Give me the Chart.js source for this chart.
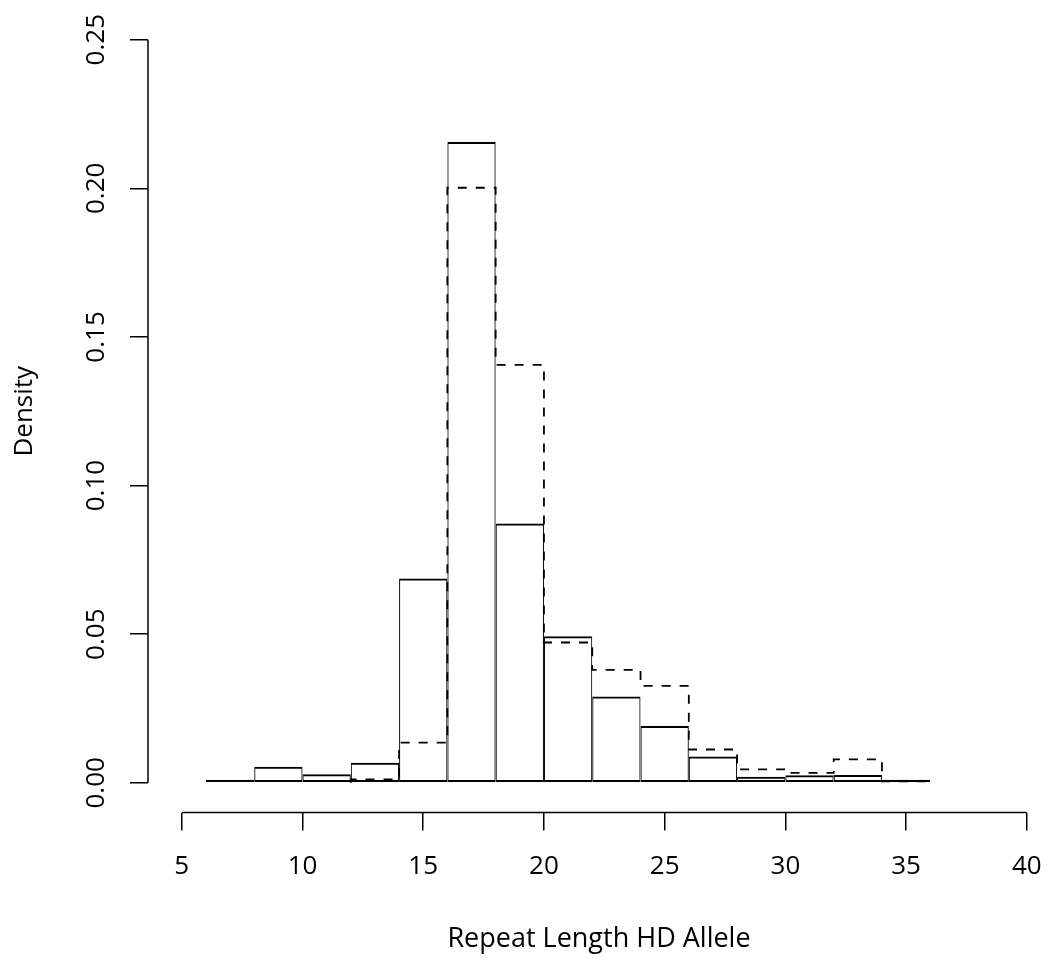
<!DOCTYPE html>
<html>
<head>
<meta charset="utf-8">
<script src="https://cdn.jsdelivr.net/npm/chart.js@4/dist/chart.umd.min.js"></script>
<style>
  body { margin: 0; background: #fff; }
  #box { width: 1050px; height: 965px; }
</style>
</head>
<body>
<div id="box"><canvas id="hist"></canvas></div>
<script>
// bin edges (repeat length), width 2
var breaks = [6, 8, 10, 12, 14, 16, 18, 20, 22, 24, 26, 28, 30, 32, 34, 36];
// solid histogram densities
var solidDens = [0.0004, 0.0054, 0.0029, 0.0067, 0.0687, 0.2156, 0.0872, 0.0493, 0.0290, 0.0191, 0.0088, 0.0020, 0.0025, 0.0026, 0.0005];
// dashed histogram densities
var dashedDens = [0, 0, 0, 0.0011, 0.0135, 0.2002, 0.1406, 0.0472, 0.0380, 0.0326, 0.0112, 0.0045, 0.0033, 0.0079, 0.0005];
var xTicks = [5, 10, 15, 20, 25, 30, 35, 40];
var yTicks = [0, 0.05, 0.10, 0.15, 0.20, 0.25];

var fontFam = '"Open Sans", "Liberation Sans", sans-serif';

var solidPts = solidDens.map(function (d, i) {
    return { x: (breaks[i] + breaks[i + 1]) / 2, y: d };
});

// outline of the dashed histogram (step line), starting at the first non-empty bin
var first = dashedDens.findIndex(function (d) { return d > 0; });
var dashedPts = [{ x: breaks[first], y: 0 }];
for (var i = first; i < dashedDens.length; i++) {
    dashedPts.push({ x: breaks[i], y: dashedDens[i] });
}
dashedPts.push({ x: breaks[breaks.length - 1], y: 0 });

// R style axes: line only from first to last tick
var rAxes = {
    id: 'rAxes',
    afterDraw: function (chart) {
        var ctx = chart.ctx, xs = chart.scales.x, ys = chart.scales.y;
        var a = chart.chartArea;
        ctx.save();
        ctx.strokeStyle = '#000';
        ctx.lineWidth = 1.5;
        ctx.beginPath();
        ctx.moveTo(xs.getPixelForValue(xTicks[0]), a.bottom);
        ctx.lineTo(xs.getPixelForValue(xTicks[xTicks.length - 1]), a.bottom);
        ctx.moveTo(a.left, ys.getPixelForValue(yTicks[0]));
        ctx.lineTo(a.left, ys.getPixelForValue(yTicks[yTicks.length - 1]));
        ctx.stroke();
        ctx.restore();
    }
};

function noPad(s) {
    s.paddingLeft = 0; s.paddingRight = 0; s.paddingTop = 0; s.paddingBottom = 0;
}

var hist = new Chart(document.getElementById('hist'), {
    type: 'bar',
    data: {
        datasets: [{
            type: 'line',
            label: 'dashed',
            data: dashedPts,
            stepped: 'before',
            borderColor: '#000',
            borderWidth: 1.8,
            borderDash: [9, 9],
            pointRadius: 0,
            fill: false,
            order: 2
        }, {
            label: 'solid',
            data: solidPts,
            backgroundColor: 'rgba(255,255,255,0)',
            borderColor: '#000',
            borderWidth: { top: 2, right: 1, bottom: 2, left: 1 },
            borderSkipped: false,
            inflateAmount: 0,
            minBarLength: 3,
            barPercentage: 1,
            categoryPercentage: 1,
            order: 1
        }]
    },
    options: {
        responsive: true,
        maintainAspectRatio: false,
        animation: false,
        layout: { padding: { top: 10, right: 0, left: 0, bottom: 0 } },
        plugins: {
            legend: { display: false },
            tooltip: { enabled: false }
        },
        scales: {
            x: {
                type: 'linear',
                min: 3.6,
                max: 40.96,
                offset: false,
                afterBuildTicks: function (s) { s.ticks = xTicks.map(function (v) { return { value: v }; }); },
                afterFit: function (s) { s.height = 152.5; noPad(s); },
                grid: { drawOnChartArea: false, offset: false, tickLength: 18, color: '#000', lineWidth: 1.5 },
                border: { display: false },
                ticks: {
                    color: '#000',
                    padding: 20,
                    maxRotation: 0,
                    font: { family: fontFam, size: 26 },
                    callback: function (v) { return String(v); }
                },
                title: {
                    display: true,
                    text: 'Repeat Length HD Allele',
                    color: '#000',
                    font: { family: fontFam, size: 27 },
                    padding: { top: 0, bottom: 9 }
                }
            },
            y: {
                min: -0.01,
                max: 0.26,
                afterBuildTicks: function (s) { s.ticks = yTicks.map(function (v) { return { value: v }; }); },
                afterFit: function (s) { s.width = 148; noPad(s); },
                grid: { drawOnChartArea: false, tickLength: 18, color: '#000', lineWidth: 1.5 },
                border: { display: false },
                ticks: {
                    color: '#000',
                    padding: 8,
                    minRotation: 90,
                    maxRotation: 90,
                    crossAlign: 'center',
                    font: { family: fontFam, size: 26 },
                    callback: function (v) { return v.toFixed(2); }
                },
                title: {
                    display: true,
                    text: 'Density',
                    color: '#000',
                    font: { family: fontFam, size: 26 },
                    padding: { top: 9, bottom: 0 }
                }
            }
        }
    },
    plugins: [rAxes]
});
</script>
</body>
</html>
